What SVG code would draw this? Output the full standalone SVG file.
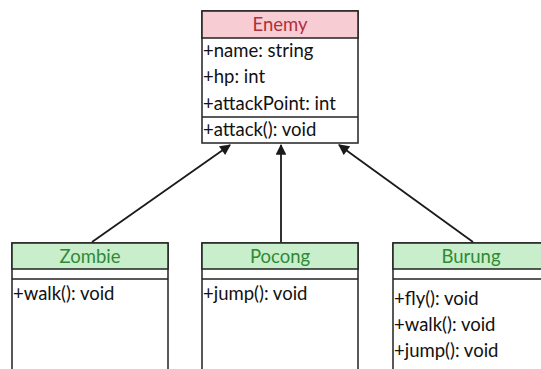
<svg xmlns="http://www.w3.org/2000/svg" width="541" height="369" viewBox="0 0 541 369">
  <style>
    .box { fill: #ffffff; stroke: #222222; stroke-width: 1.5; }
    .line { stroke: #222222; stroke-width: 1.5; fill: none; }
    .hdr-red { fill: #f8ccd3; stroke: #222222; stroke-width: 1.5; }
    .hdr-green { fill: #c8eecb; stroke: #222222; stroke-width: 1.5; }
    text { font-family: "Lato", "Liberation Sans", sans-serif; font-size: 18.5px; fill: #111111; }
    .title-red { fill: #b0303c; text-anchor: middle; }
    .title-green { fill: #2f8a36; text-anchor: middle; }
    .conn { stroke: #1a1a1a; stroke-width: 1.8; fill: none; marker-end: url(#head); }
  </style>
  <defs>
    <marker id="head" viewBox="0 0 10 10" refX="9" refY="5" markerWidth="6.5" markerHeight="6" orient="auto" markerUnits="strokeWidth">
      <path d="M0,0 L10,5 L0,10 z" fill="#1a1a1a"/>
    </marker>
  </defs>

  <!-- connectors -->
  <g id="connectors">
    <line class="conn" x1="92" y1="242" x2="230" y2="145"/>
    <line class="conn" x1="281" y1="242" x2="281" y2="145"/>
    <line class="conn" x1="473" y1="242" x2="339" y2="145"/>
  </g>

  <!-- Enemy -->
  <g id="enemy">
    <rect class="box" x="202" y="11" width="156" height="132"/>
    <rect class="hdr-red" x="202" y="11" width="156" height="27"/>
    <line class="line" x1="202" y1="117" x2="358" y2="117"/>
    <text class="title-red" x="280" y="31">Enemy</text>
    <text x="203" y="57">+name: string</text>
    <text x="203" y="83">+hp: int</text>
    <text x="203" y="110">+attackPoint: int</text>
    <text x="203" y="136">+attack(): void</text>
  </g>

  <!-- Zombie -->
  <g id="zombie">
    <rect class="box" x="12" y="243" width="156" height="140"/>
    <rect class="hdr-green" x="12" y="243" width="156" height="26"/>
    <line class="line" x1="12" y1="279" x2="168" y2="279"/>
    <text class="title-green" x="90" y="263">Zombie</text>
    <text x="13" y="300">+walk(): void</text>
  </g>

  <!-- Pocong -->
  <g id="pocong">
    <rect class="box" x="202" y="243" width="156" height="140"/>
    <rect class="hdr-green" x="202" y="243" width="156" height="26"/>
    <line class="line" x1="202" y1="279" x2="358" y2="279"/>
    <text class="title-green" x="280" y="263">Pocong</text>
    <text x="203" y="300">+jump(): void</text>
  </g>

  <!-- Burung -->
  <g id="burung">
    <rect class="box" x="393" y="243" width="156" height="140"/>
    <rect class="hdr-green" x="393" y="243" width="156" height="26"/>
    <line class="line" x1="393" y1="279" x2="549" y2="279"/>
    <text class="title-green" x="471" y="263">Burung</text>
    <text x="394" y="305">+fly(): void</text>
    <text x="394" y="331">+walk(): void</text>
    <text x="394" y="357">+jump(): void</text>
  </g>
</svg>
